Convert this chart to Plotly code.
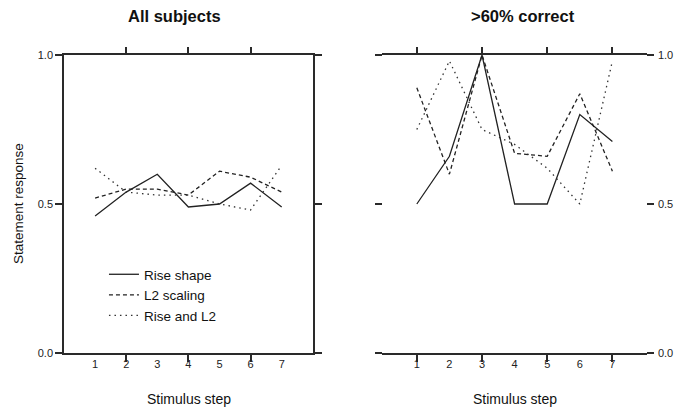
import plotly.graph_objects as go

steps = [1, 2, 3, 4, 5, 6, 7]
step_labels = ["1", "2", "3", "4", "5", "6", "7"]
y_ticks = [0.0, 0.5, 1.0]
y_tick_labels = ["0.0", "0.5", "1.0"]

series_names = ["Rise shape", "L2 scaling", "Rise and L2"]

# All subjects
all_rise = [0.46, 0.54, 0.60, 0.49, 0.50, 0.57, 0.49]
all_l2 = [0.52, 0.55, 0.55, 0.53, 0.61, 0.59, 0.54]
all_both = [0.62, 0.54, 0.53, 0.53, 0.50, 0.48, 0.63]

# >60% correct
top_rise = [0.50, 0.66, 1.00, 0.50, 0.50, 0.80, 0.71]
top_l2 = [0.89, 0.60, 1.00, 0.67, 0.66, 0.87, 0.61]
top_both = [0.75, 0.98, 0.75, 0.70, 0.62, 0.50, 0.98]

left_ticks = [2, 4, 6]
right_ticks = [1, 3, 5, 7]

FONT = "Liberation Sans, Arial, sans-serif"
INK = "#2a2a2a"
styles = [
    dict(color="#222222", width=1.3, dash="solid"),
    dict(color="#222222", width=1.3, dash="4px,3px"),
    dict(color="#333333", width=1.3, dash="1.5px,4px"),
]

fig = go.Figure()
# the third series of each panel sits on the overlaying top axis (same range/domain)
left_axes = ["x", "x", "x3"]
right_axes = ["x2", "x2", "x4"]
for name, ys, st, xa in zip(series_names, [all_rise, all_l2, all_both], styles, left_axes):
    fig.add_trace(go.Scatter(x=steps, y=ys, mode="lines", name=name, line=st,
                             xaxis=xa, yaxis="y", showlegend=True))
for name, ys, st, xa in zip(series_names, [top_rise, top_l2, top_both], styles, right_axes):
    fig.add_trace(go.Scatter(x=steps, y=ys, mode="lines", name=name, line=st,
                             xaxis=xa, yaxis="y2", showlegend=False))

# page body margin is removed by post_script, so figure pixels == screen pixels
W, H = 677, 409
left_px, right_px, top_px, bottom_px = 64, 645.5, 55, 353
ml = left_px
mr = W - right_px
mt = top_px
mb = H - bottom_px
pw = W - ml - mr
ph = H - mt - mb

def px_x(p):
    return (p - ml) / pw

def px_y(p):
    return (H - mb - p) / ph

dom1 = [0, px_x(313)]
dom2 = [px_x(384.5), 1]

axis_common = dict(range=[0, 8], showgrid=False, zeroline=False, showline=True,
                   linecolor=INK, linewidth=1.5, mirror=True,
                   tickmode="array", tickvals=steps, ticktext=step_labels, ticks="",
                   tickfont=dict(family=FONT, size=11, color="#222"))
top_common = dict(range=[0, 8], showgrid=False, zeroline=False, showline=False,
                  side="top", tickmode="array", ticks="outside", ticklen=7,
                  tickwidth=1.5, tickcolor=INK, showticklabels=False)
yaxis_common = dict(range=[0, 1], domain=[0, 1], showgrid=False, zeroline=False,
                    showline=True, linewidth=1.5, mirror="ticks",
                    tickmode="array", tickvals=y_ticks, ticktext=y_tick_labels,
                    ticks="outside", ticklen=7, tickwidth=1.5, tickcolor=INK,
                    tickfont=dict(family=FONT, size=11, color="#222"))
fig.update_layout(
    xaxis=dict(domain=dom1, anchor="y",
               minor=dict(tickmode="array", tickvals=left_ticks, ticks="outside",
                          ticklen=7, tickwidth=1.5, tickcolor=INK),
               **axis_common),
    xaxis2=dict(domain=dom2, anchor="y2",
                minor=dict(tickmode="array", tickvals=right_ticks, ticks="outside",
                           ticklen=7, tickwidth=1.5, tickcolor=INK),
                **axis_common),
    xaxis3=dict(domain=dom1, anchor="y", overlaying="x", tickvals=left_ticks, **top_common),
    xaxis4=dict(domain=dom2, anchor="y2", overlaying="x2", tickvals=right_ticks, **top_common),
    yaxis=dict(anchor="x", linecolor=INK, **yaxis_common),
    yaxis2=dict(anchor="x2", side="right", linecolor="rgba(0,0,0,0)",
                ticklabelstandoff=2, **yaxis_common),
    width=W, height=H,
    margin=dict(l=ml, r=mr, t=mt, b=mb, autoexpand=False),
    paper_bgcolor="white", plot_bgcolor="white",
    font=dict(family=FONT, color="#111"),
    legend=dict(x=px_x(104), y=px_y(259), xanchor="left", yanchor="top",
                bgcolor="rgba(0,0,0,0)", font=dict(family=FONT, size=13.5, color="#111"),
                tracegroupgap=0, itemwidth=30),
    annotations=[
        dict(text="<b>All subjects</b>", x=px_x(174.5), y=px_y(16), xref="paper", yref="paper",
             showarrow=False, font=dict(family=FONT, size=16.5, color="#111"),
             xanchor="center", yanchor="middle"),
        dict(text="<b>>60% correct</b>", x=px_x(523), y=px_y(16), xref="paper", yref="paper",
             showarrow=False, font=dict(family=FONT, size=16.5, color="#111"),
             xanchor="center", yanchor="middle"),
        dict(text="Statement response", x=px_x(18), y=0.5, xref="paper", yref="paper",
             showarrow=False, textangle=-90, font=dict(family=FONT, size=13.5, color="#111"),
             xanchor="center", yanchor="middle"),
        dict(text="Stimulus step", x=px_x(189), y=px_y(399), xref="paper", yref="paper",
             showarrow=False, font=dict(family=FONT, size=14, color="#111"),
             xanchor="center", yanchor="middle"),
        dict(text="Stimulus step", x=px_x(515), y=px_y(399), xref="paper", yref="paper",
             showarrow=False, font=dict(family=FONT, size=14, color="#111"),
             xanchor="center", yanchor="middle"),
    ],
)

fig.write_html("out.html", config={"displayModeBar": False},
               post_script="document.body.style.margin='0px';document.body.style.overflow='hidden';")
